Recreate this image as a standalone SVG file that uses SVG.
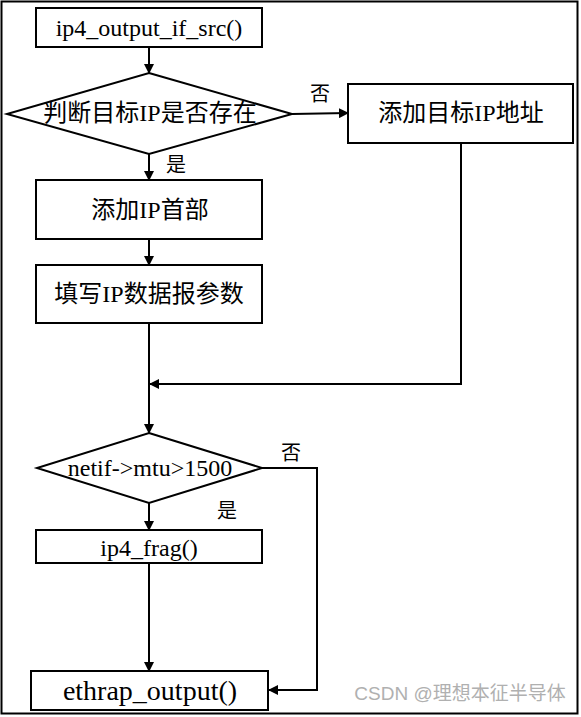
<svg xmlns="http://www.w3.org/2000/svg" width="581" height="717" viewBox="0 0 581 717">
<style>
.n{fill:#fff;stroke:#000;stroke-width:2}
.t{font-family:"Liberation Serif","Noto Sans CJK SC",serif;font-size:24px;fill:#000;text-anchor:middle;dominant-baseline:central}
.l{font-family:"Liberation Serif","Noto Sans CJK SC",serif;font-size:20px;fill:#000;text-anchor:middle;dominant-baseline:central}
.c{fill:none;stroke:#000;stroke-width:2}
</style>
<defs>
<marker id="a" markerWidth="10" markerHeight="10" refX="9" refY="5" orient="auto" markerUnits="userSpaceOnUse">
<path d="M0,0 L10,5 L0,10 Z" fill="#000"/>
</marker>
</defs>
<rect x="1.5" y="1.5" width="576" height="712" fill="#fff" stroke="#000" stroke-width="2"/>
<g id="connectors">
<line class="c" x1="149" y1="47" x2="149" y2="73" marker-end="url(#a)"/>
<line class="c" x1="149" y1="154" x2="149" y2="180" marker-end="url(#a)"/>
<line class="c" x1="292" y1="114" x2="348" y2="113" marker-end="url(#a)"/>
<line class="c" x1="149" y1="239" x2="149" y2="265" marker-end="url(#a)"/>
<line class="c" x1="149" y1="323" x2="149" y2="433" marker-end="url(#a)"/>
<polyline class="c" points="461,143 461,384 150,384" marker-end="url(#a)"/>
<line class="c" x1="149" y1="503" x2="149" y2="530" marker-end="url(#a)"/>
<line class="c" x1="149" y1="563" x2="149" y2="671" marker-end="url(#a)"/>
<polyline class="c" points="262,468 317,468 317,690 269,690" marker-end="url(#a)"/>
<text class="l" x="320" y="94">否</text>
<text class="l" x="176" y="165">是</text>
<text class="l" x="291" y="453">否</text>
<text class="l" x="227" y="511">是</text>
</g>
<g id="n1"><rect class="n" x="36" y="8" width="226" height="39"/><text class="t" x="149" y="28">ip4_output_if_src()</text></g>
<g id="n2"><polygon class="n" points="149,73 292,114 149,154 7,114"/><text class="t" x="150" y="113">判断目标IP是否存在</text></g>
<g id="n3"><rect class="n" x="348" y="84" width="225" height="59"/><text class="t" x="461" y="113">添加目标IP地址</text></g>
<g id="n4"><rect class="n" x="36" y="180" width="226" height="59"/><text class="t" x="150" y="210">添加IP首部</text></g>
<g id="n5"><rect class="n" x="36" y="265" width="226" height="58"/><text class="t" x="149" y="294">填写IP数据报参数</text></g>
<g id="n6"><polygon class="n" points="149,433 262,468 149,503 37,468"/><text class="t" x="150" y="468">netif-&gt;mtu&gt;1500</text></g>
<g id="n7"><rect class="n" x="36" y="530" width="226" height="33"/><text class="t" x="149" y="548">ip4_frag()</text></g>
<g id="n8"><rect class="n" x="31" y="671" width="237" height="39"/><text class="t" x="150" y="690" style="font-size:28px">ethrap_output()</text></g>
<text x="460" y="693" style="font-family:'Liberation Sans','Noto Sans CJK SC',sans-serif;font-size:19px;fill:#b0b0b0;text-anchor:middle;dominant-baseline:central">CSDN @理想本征半导体</text>
</svg>
